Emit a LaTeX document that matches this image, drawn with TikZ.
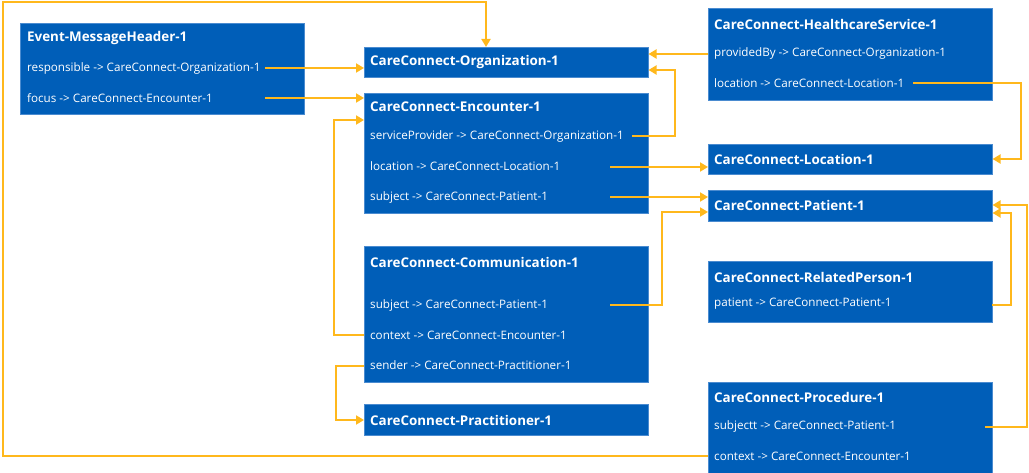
\documentclass[tikz,border=0pt]{standalone}
\usepackage{fontspec}
\setmainfont{Open Sans}
\usetikzlibrary{arrows.meta}
\definecolor{nhsblue}{HTML}{005EB8}
\definecolor{boxedge}{HTML}{4A8BD0}
\definecolor{linkorange}{HTML}{FFB81C}
\begin{document}
\begin{tikzpicture}[x=1pt,y=-1pt,
  resource/.style={fill=nhsblue, draw=boxedge, line width=0.5pt, anchor=north west,
    inner sep=0pt, minimum width=284pt},
  title/.style={anchor=west, text=white, inner sep=0pt,
    font=\bfseries\fontsize{13.4}{16}\selectfont},
  field/.style={anchor=west, text=white, inner sep=0pt,
    font=\fontsize{11.65}{14}\selectfont},
  link/.style={draw=linkorange, line width=1.8pt, line join=miter,
    -{Triangle[length=8pt,width=9pt]}},
]
\useasboundingbox (0,0) rectangle (1029,473);

% ---------- resources ----------
\node[resource, minimum height=91pt]  (mh)   at (20,23)  {};
\node[resource, minimum height=30pt]  (org)  at (364,47) {};
\node[resource, minimum height=120pt] (enc)  at (364,93) {};
\node[resource, minimum height=136pt] (comm) at (364,246) {};
\node[resource, minimum height=31pt]  (prac) at (364,404) {};
\node[resource, minimum height=92pt]  (hs)   at (708,8)  {};
\node[resource, minimum height=30pt]  (loc)  at (708,144) {};
\node[resource, minimum height=31pt]  (pat)  at (708,190) {};
\node[resource, minimum height=61pt]  (rp)   at (708,261) {};
\node[resource, minimum height=91pt]  (proc) at (708,382) {};

% ---------- titles and fields ----------
\node[title] (mhT) at (27,38) {Event-MessageHeader-1};
\node[field] (mhR) at (27,68) {responsible -> CareConnect-Organization-1};
\node[field] (mhF) at (27,98) {focus -> CareConnect-Encounter-1};

\node[title] (orgT) at (370,62) {CareConnect-Organization-1};

\node[title] (encT) at (370,107) {CareConnect-Encounter-1};
\node[field] (encSP) at (370,136) {serviceProvider -> CareConnect-Organization-1};
\node[field] (encL) at (370,166) {location -> CareConnect-Location-1};
\node[field] (encS) at (370,197) {subject -> CareConnect-Patient-1};

\node[title] (commT) at (370,262) {CareConnect-Communication-1};
\node[field] (commS) at (370,305) {subject -> CareConnect-Patient-1};
\node[field] (commC) at (370,335) {context -> CareConnect-Encounter-1};
\node[field] (commSe) at (370,365) {sender -> CareConnect-Practitioner-1};

\node[title] (pracT) at (370,420) {CareConnect-Practitioner-1};

\node[title] (hsT) at (714,24) {CareConnect-HealthcareService-1};
\node[field] (hsP) at (714,53) {providedBy -> CareConnect-Organization-1};
\node[field] (hsL) at (714,83) {location -> CareConnect-Location-1};

\node[title] (locT) at (714,159) {CareConnect-Location-1};
\node[title] (patT) at (714,205) {CareConnect-Patient-1};

\node[title] (rpT) at (714,277) {CareConnect-RelatedPerson-1};
\node[field] (rpP) at (714,304) {patient -> CareConnect-Patient-1};

\node[title] (procT) at (714,397) {CareConnect-Procedure-1};
\node[field] (procS) at (714,426) {subjectt -> CareConnect-Patient-1};
\node[field] (procC) at (714,456) {context -> CareConnect-Encounter-1};

% ---------- connector ends and bends ----------
\coordinate (sResp) at (265,68);
\coordinate (sFocus) at (265,98);
\coordinate (sSP) at (632,136);   \coordinate (cSP) at (675,70);
\coordinate (sPB) at (708,54);
\coordinate (sHSL) at (913,83);   \coordinate (cHSL) at (1021,159);
\coordinate (sEL) at (610,167);
\coordinate (sES) at (610,197);
\coordinate (sCS) at (610,305);   \coordinate (cCS) at (662,212);
\coordinate (sCC) at (364,335);   \coordinate (cCC) at (334,120);
\coordinate (sSend) at (364,366); \coordinate (cSend) at (336,420);
\coordinate (sRP) at (992,305);   \coordinate (cRP) at (1011,213);
\coordinate (sPS) at (985,427);   \coordinate (cPS) at (1027,205);
\coordinate (sPC) at (708,456);   \coordinate (cPC) at (3,2);
\coordinate (tPC) at (486,47);

% ---------- references ----------
\draw[link] (sResp) -- (sResp -| org.west);
\draw[link] (sFocus) -- (sFocus -| enc.west);
\draw[link] (sSP) -| (cSP) -- (cSP -| org.east);
\draw[link] (sPB) -- (sPB -| org.east);
\draw[link] (sHSL) -| (cHSL) -- (cHSL -| loc.east);
\draw[link] (sEL) -- (sEL -| loc.west);
\draw[link] (sES) -- (sES -| pat.west);
\draw[link] (sCS) -| (cCS) -- (cCS -| pat.west);
\draw[link] (sCC) -| (cCC) -- (cCC -| enc.west);
\draw[link] (sSend) -| (cSend) -- (cSend -| prac.west);
\draw[link] (sRP) -| (cRP) -- (cRP -| pat.east);
\draw[link] (sPS) -| (cPS) -- (cPS -| pat.east);
\draw[link] (sPC) -| (cPC) -| (tPC |- cPC) -- (tPC);
\end{tikzpicture}
\end{document}
